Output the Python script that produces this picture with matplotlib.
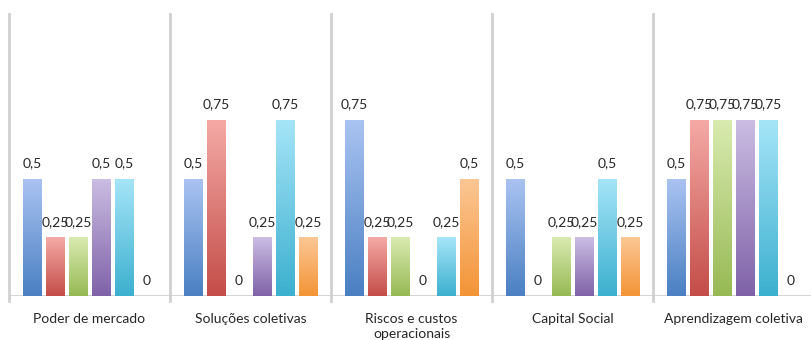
import numpy as np
import matplotlib
matplotlib.use("Agg")
import matplotlib.pyplot as plt
from matplotlib.colors import LinearSegmentedColormap

plt.rcParams['font.family'] = ['Lato', 'DejaVu Sans']

# Chart data
categories = ["Poder de mercado", "Soluções coletivas", "Riscos e custos\noperacionais",
              "Capital Social", "Aprendizagem coletiva"]
serie_1 = [0.5, 0.5, 0.75, 0.5, 0.5]
serie_2 = [0.25, 0.75, 0.25, 0, 0.75]
serie_3 = [0.25, 0, 0.25, 0.25, 0.75]
serie_4 = [0.5, 0.25, 0, 0.25, 0.75]
serie_5 = [0.5, 0.75, 0.25, 0.5, 0.75]
serie_6 = [0, 0.25, 0.5, 0.25, 0]
series = [serie_1, serie_2, serie_3, serie_4, serie_5, serie_6]

# (top colour, bottom colour) gradient for each series
gradients = [
    ("#aac4f2", "#4a7fc2"),
    ("#f5aaa6", "#c44d48"),
    ("#d9ebb0", "#97b954"),
    ("#cbbde3", "#7f62a8"),
    ("#a6e5f8", "#3cb0cf"),
    ("#fcc795", "#f39436"),
]

fig = plt.figure(figsize=(8.12, 3.4), dpi=100)
ax = fig.add_axes([9 / 812, 44 / 340, 805 / 812, 282 / 340])

n = len(series)
bar_w = 19 / 161
step = 23 / 161
x = np.arange(len(categories))

for i, (vals, (top, bottom)) in enumerate(zip(series, gradients)):
    cmap = LinearSegmentedColormap.from_list(f"g{i}", [bottom, top])
    grad = np.linspace(0, 1, 256).reshape(-1, 1)
    pos = x + (i - (n - 1) / 2) * step
    bars = ax.bar(pos, vals, width=bar_w, color="none", edgecolor="none")
    for b, v in zip(bars, vals):
        if v > 0:
            x0 = b.get_x()
            im = ax.imshow(grad, cmap=cmap, origin="lower", aspect="auto",
                           extent=(x0, x0 + bar_w, 0, v), zorder=2)
            im.set_clip_path(b)
        label = f"{v:g}".replace(".", ",")
        ax.text(b.get_x() + bar_w / 2, v + 0.04, label, ha="center", va="bottom",
                fontsize=10, color="#262626", zorder=3)

ax.set_xlim(-0.5, len(categories) - 0.5)
ax.set_ylim(0, 1.2)

# category separators and axis
for k in range(len(categories) + 1):
    ax.plot([k - 0.5, k - 0.5], [-0.02, 1.2], color="#d0d0d0", lw=2,
            clip_on=False, zorder=1)
ax.axhline(0, color="#d0d0d0", lw=2, zorder=1)

for s in ax.spines.values():
    s.set_visible(False)
ax.set_yticks([])
ax.set_xticks(x)
ax.set_xticklabels(categories, fontsize=10, color="#262626", linespacing=1.35)
ax.tick_params(axis="x", length=0, pad=12)

fig.savefig("out.png", dpi=100)
